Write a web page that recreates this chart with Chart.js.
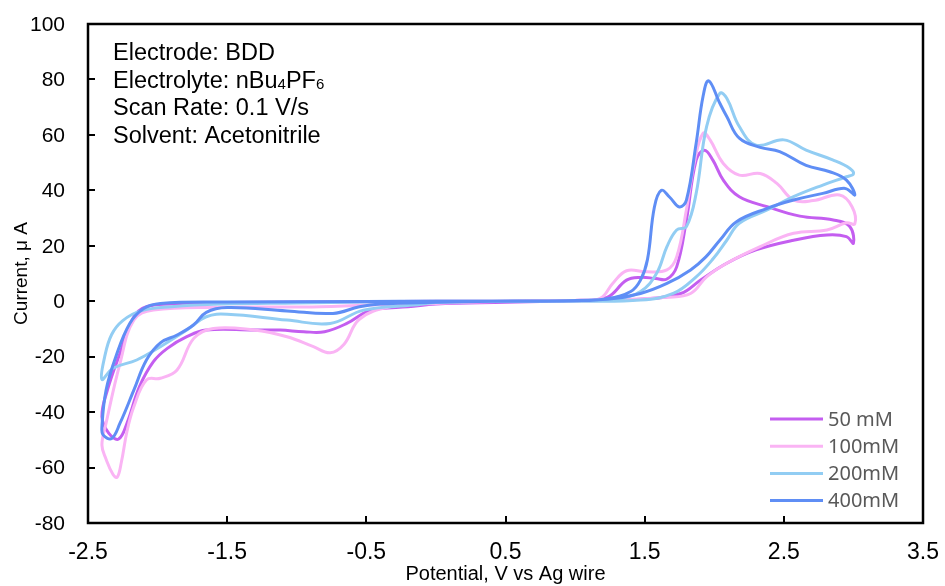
<!DOCTYPE html>
<html>
<head>
<meta charset="utf-8">
<script src="https://cdn.jsdelivr.net/npm/chart.js@4/dist/chart.umd.min.js"></script>
<style>
  html, body { margin: 0; padding: 0; background: #ffffff; }
  #cv { display: block; }
</style>
</head>
<body>
<canvas id="cv" width="945" height="586"></canvas>
<script>
// Cyclic voltammograms at four concentrations (potential in V, current in µA)
const seriesLabels = ['50 mM', '100mM', '200mM', '400mM'];
const seriesColors = ['#C45EF0', '#FAB4F4', '#92CDF3', '#5F8EF5'];

const pot50 = [0.5,1.0,1.23,1.37,1.47,1.58,1.66,1.73,1.80,1.87,1.93,1.99,2.065,2.18,2.38,2.615,2.855,2.975,3.0,2.95,2.81,2.57,2.30,2.09,1.90,1.76,1.47,1.0,0.5,0.0,-0.2,-0.40,-0.50,-0.64,-0.80,-0.95,-1.12,-1.31,-1.65,-1.79,-1.93,-2.03,-2.13,-2.22,-2.28,-2.35,-2.40,-2.36,-2.27,-2.17,-2.08,-1.91,-1.5,-1.0,-0.5,0.0,0.5];
const cur50 = [0,0.3,1.4,7.6,8.6,8.2,8.0,12.4,29.3,50.9,54.5,50.9,43.7,37.7,34.1,30.7,29.3,26.9,20.9,23.3,23.9,22.0,18.5,13.7,7.6,2.8,0.7,0.2,-0.4,-1.0,-2.0,-2.6,-3.8,-8.0,-11.0,-11.0,-10.4,-10.4,-10.4,-12.8,-17.0,-21.8,-30.8,-44.0,-49.7,-47.7,-41.7,-32.0,-18.8,-5.6,-2.0,-1.0,-0.5,-0.3,-0.2,0,0];

const pot100 = [0.5,1.0,1.18,1.27,1.37,1.51,1.66,1.73,1.80,1.86,1.92,1.97,2.065,2.18,2.33,2.45,2.57,2.71,2.90,2.99,3.01,2.95,2.81,2.57,2.33,2.09,1.945,1.83,1.66,1.2,0.5,0.0,-0.33,-0.55,-0.66,-0.76,-0.88,-1.07,-1.31,-1.60,-1.74,-1.86,-1.98,-2.08,-2.17,-2.22,-2.26,-2.29,-2.32,-2.37,-2.40,-2.37,-2.27,-2.17,-2.03,-1.55,-0.83,-0.3,0.0,0.5];
const cur100 = [0,0.3,1.0,6.4,11.0,10.6,11.3,16.0,33.0,50.9,60.6,58.2,49.7,45.5,46.1,42.5,36.5,36.3,38.3,34.1,27.9,28.3,25.7,24.5,19.7,13.7,8.8,2.8,1.4,0.3,0,-0.8,-2.0,-6.5,-15.5,-18.6,-16.4,-12.8,-10.4,-9.8,-13.4,-24.8,-27.8,-28.4,-38.0,-47.0,-58.0,-63.5,-62.5,-57.0,-51.9,-44.0,-22.4,-6.8,-3.2,-2.2,-2.0,-1.0,-0.3,0];

const pot200 = [0.5,1.0,1.30,1.47,1.585,1.66,1.73,1.80,1.87,1.945,2.04,2.09,2.18,2.30,2.50,2.66,2.855,2.975,3.0,2.95,2.78,2.57,2.38,2.18,2.09,1.99,1.87,1.705,1.47,1.0,0.5,0.0,-0.16,-0.52,-0.76,-1.07,-1.50,-1.65,-1.79,-1.98,-2.15,-2.32,-2.40,-2.38,-2.33,-2.25,-2.12,-1.90,-1.55,-1.0,-0.5,0.0,0.5];
const cur200 = [0,0.1,0.8,3.5,10.0,19.7,25.7,26.9,38.9,63.0,75.0,73.2,63.0,56.3,58.2,54.5,50.9,47.9,45.9,44.9,41.9,37.7,32.9,28.1,22.0,15.2,8.8,2.8,0.4,0,0,-0.5,-1.4,-3.2,-8.0,-6.8,-4.7,-5.6,-10.4,-16.4,-21.2,-24.2,-28.2,-20.0,-12.0,-7.0,-3.5,-2.0,-1.0,-0.6,-0.3,0,0];

const pot400 = [0.4,1.0,1.23,1.40,1.47,1.52,1.57,1.62,1.68,1.75,1.80,1.87,1.92,1.96,2.04,2.09,2.18,2.33,2.47,2.66,2.83,2.95,3.01,2.94,2.78,2.57,2.38,2.16,2.04,1.94,1.83,1.66,1.47,1.23,0.8,0.4,0.0,-0.40,-0.55,-0.74,-1.07,-1.50,-1.65,-1.74,-1.86,-1.98,-2.08,-2.17,-2.27,-2.33,-2.39,-2.40,-2.37,-2.30,-2.20,-2.10,-1.98,-1.5,-0.5,0.0,0.4];
const cur400 = [0,0.2,0.9,3.5,7.6,15.0,34.0,40.0,37.5,34.0,36.5,57.0,74.0,79.5,71.4,66.6,58.8,55.5,54.0,49.0,46.7,43.7,38.3,40.7,38.9,36.5,33.5,28.7,22.0,16.0,11.3,6.4,2.8,0.7,0.1,0,-0.4,-1.0,-2.0,-4.4,-3.5,-2.3,-4.0,-8.5,-12.2,-15.0,-21.2,-32.0,-44.0,-49.5,-48.3,-45.3,-32.0,-20.0,-8.0,-2.6,-0.8,-0.3,-0.1,0,0];

const xTickLabels = ['-2.5', '-1.5', '-0.5', '0.5', '1.5', '2.5', '3.5'];
const yTickLabels = ['-80', '-60', '-40', '-20', '0', '20', '40', '60', '80', '100'];
const xTitle = 'Potential, V vs Ag wire';
const yTitle = 'Current, μ A';

const conditionLines = [
  [['Electrode: BDD', 0]],
  [['Electrolyte: nBu', 0], ['4', 1], ['PF', 0], ['6', 1]],
  [['Scan Rate: 0.1 V/s', 0]],
  [['Solvent: Acetonitrile', 0]]
];

const ARIAL = '"Liberation Sans", Arial, Helvetica, sans-serif';

function toPoints(xs, ys) {
  const n = Math.min(xs.length, ys.length);
  const pts = [];
  for (let i = 0; i < n; i++) pts.push({ x: xs[i], y: ys[i] });
  return pts;
}

const seriesData = [[pot50, cur50], [pot100, cur100], [pot200, cur200], [pot400, cur400]];

const datasets = seriesData.map((s, i) => ({
  label: seriesLabels[i],
  data: toPoints(s[0], s[1]),
  borderColor: seriesColors[i],
  backgroundColor: seriesColors[i],
  showLine: true,
  fill: false,
  borderWidth: 3,
  pointRadius: 0,
  tension: 0.4,
  order: seriesLabels.length - i
}));

// Axis labels, frame, inward tick marks, condition notes and the legend
const decorations = {
  id: 'decorations',
  afterDraw(chart) {
    const ctx = chart.ctx;
    const a = chart.chartArea;
    const xs = chart.scales.x, ys = chart.scales.y;
    ctx.save();

    // tick labels
    ctx.fillStyle = '#000';
    ctx.font = '23px ' + ARIAL;
    ctx.textAlign = 'center';
    ctx.textBaseline = 'middle';
    xs.ticks.forEach((t, i) => {
      ctx.fillText(xTickLabels[i], xs.getPixelForValue(t.value), a.bottom + 30);
    });
    ctx.font = '21px ' + ARIAL;
    ctx.textAlign = 'right';
    ys.ticks.forEach((t, i) => {
      ctx.fillText(yTickLabels[i], a.left - 23, ys.getPixelForValue(t.value) + 1);
    });

    // axis titles
    ctx.font = '20px ' + ARIAL;
    ctx.textAlign = 'center';
    ctx.fillText(xTitle, (a.left + a.right) / 2, 574);
    ctx.save();
    ctx.translate(22, (a.top + a.bottom) / 2);
    ctx.rotate(-Math.PI / 2);
    ctx.font = '19px ' + ARIAL;
    ctx.fillText(yTitle, 0, 0);
    ctx.restore();

    // inward tick marks
    ctx.strokeStyle = '#000';
    ctx.lineWidth = 2;
    ctx.beginPath();
    xs.ticks.forEach(t => {
      const px = Math.round(xs.getPixelForValue(t.value));
      ctx.moveTo(px, a.bottom);
      ctx.lineTo(px, a.bottom - 7);
    });
    ys.ticks.forEach(t => {
      const py = Math.round(ys.getPixelForValue(t.value));
      ctx.moveTo(a.left, py);
      ctx.lineTo(a.left + 7, py);
    });
    ctx.stroke();

    // plot frame
    ctx.lineWidth = 2.5;
    ctx.strokeRect(a.left, a.top, a.right - a.left, a.bottom - a.top);

    // experimental conditions
    ctx.textBaseline = 'alphabetic';
    ctx.textAlign = 'left';
    const baseX = 113, baseY = 60, step = 27.6;
    conditionLines.forEach((runs, li) => {
      let x = baseX;
      const y = baseY + li * step;
      runs.forEach(([txt, sub]) => {
        ctx.font = (sub ? '15px ' : '23.5px ') + ARIAL;
        ctx.fillText(txt, x, sub ? y + 1 : y);
        x += ctx.measureText(txt).width;
      });
    });

    // legend
    const legX0 = 770, legX1 = 823, legY0 = 419, legStep = 27.2;
    ctx.font = '20px "Noto Sans", "Open Sans", sans-serif';
    ctx.textBaseline = 'middle';
    chart.data.datasets.forEach((ds, i) => {
      const y = legY0 + i * legStep;
      ctx.strokeStyle = ds.borderColor;
      ctx.lineWidth = 3;
      ctx.beginPath();
      ctx.moveTo(legX0, y);
      ctx.lineTo(legX1, y);
      ctx.stroke();
      ctx.fillStyle = '#595959';
      ctx.fillText(ds.label, 828, y + 1);
    });

    ctx.restore();
  }
};

new Chart(document.getElementById('cv'), {
  type: 'scatter',
  data: { datasets },
  options: {
    responsive: false,
    animation: false,
    layout: { padding: { top: 24, right: 22, left: 0, bottom: 0 } },
    plugins: { legend: { display: false }, tooltip: { enabled: false } },
    scales: {
      x: {
        type: 'linear',
        min: -2.5,
        max: 3.5,
        afterBuildTicks: s => { s.ticks = xTickLabels.map(v => ({ value: parseFloat(v) })); },
        afterFit: s => { s.height = 63; },
        grid: { display: false },
        border: { display: false },
        ticks: { display: false },
        title: { display: false }
      },
      y: {
        type: 'linear',
        min: -80,
        max: 100,
        afterBuildTicks: s => { s.ticks = yTickLabels.map(v => ({ value: parseFloat(v) })); },
        afterFit: s => { s.width = 88; },
        grid: { display: false },
        border: { display: false },
        ticks: { display: false },
        title: { display: false }
      }
    }
  },
  plugins: [decorations]
});
</script>
</body>
</html>
